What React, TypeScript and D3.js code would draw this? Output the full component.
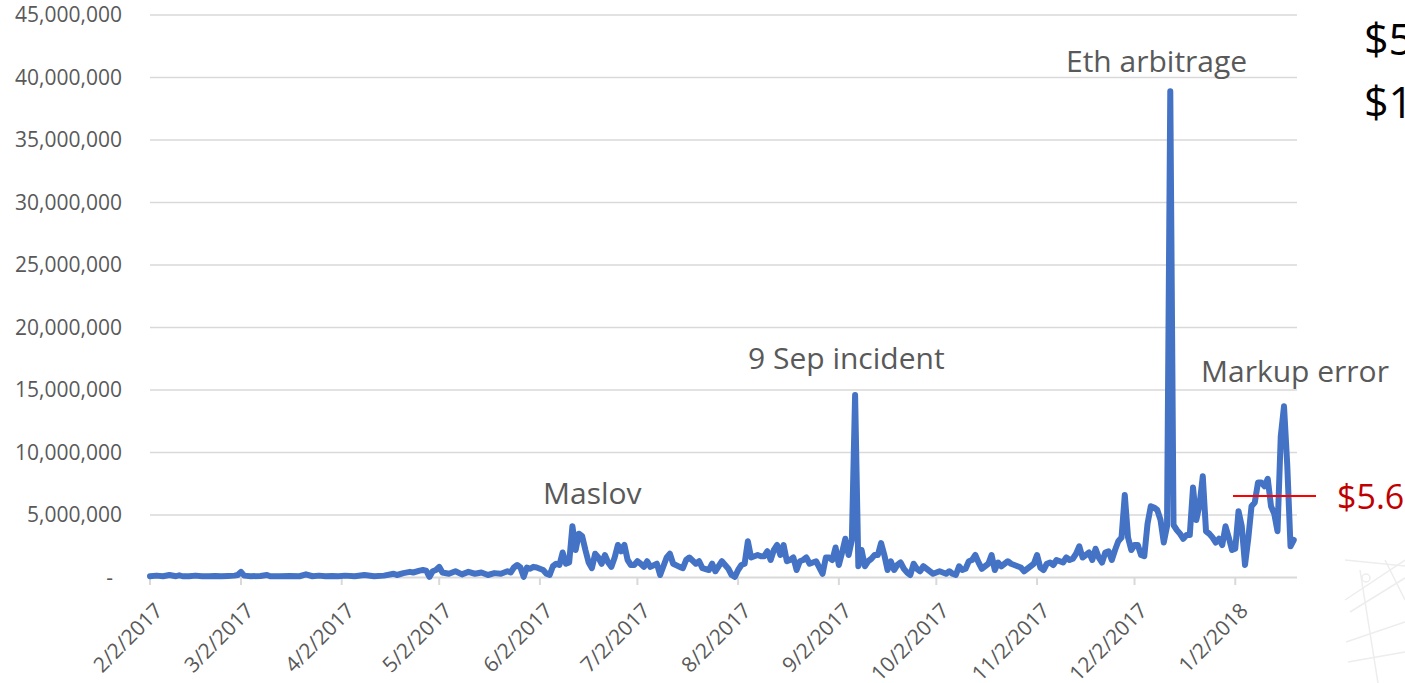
import * as d3 from 'd3';
import * as React from 'react';

// [day of month, daily volume in millions USD]
type Pt = [number, number];

const feb2017: Pt[] = [[2, 0.1], [4, 0.15], [6, 0.1], [8, 0.2], [10, 0.1], [11, 0.18], [12, 0.1], [14, 0.1], [16, 0.15], [18, 0.1], [20, 0.1], [22, 0.12], [24, 0.1], [26, 0.12], [28, 0.15]];
const mar2017: Pt[] = [[1, 0.2], [2, 0.45], [3, 0.15], [5, 0.1], [8, 0.12], [10, 0.2], [11, 0.1], [14, 0.1], [17, 0.12], [20, 0.1], [22, 0.25], [24, 0.1], [26, 0.15], [28, 0.1], [30, 0.12]];
const apr2017: Pt[] = [[1, 0.1], [3, 0.15], [6, 0.1], [9, 0.2], [12, 0.1], [15, 0.15], [18, 0.3], [19, 0.2], [21, 0.35], [23, 0.45], [24, 0.4], [26, 0.55], [27, 0.6], [28, 0.55], [29, 0.05], [30, 0.5]];
const may2017: Pt[] = [[1, 0.6], [2, 0.85], [3, 0.4], [5, 0.3], [7, 0.5], [9, 0.25], [11, 0.45], [13, 0.3], [15, 0.4], [17, 0.2], [19, 0.35], [21, 0.3], [23, 0.5], [24, 0.4], [25, 0.8], [26, 1.0], [27, 0.8], [28, 0.05], [29, 0.8], [30, 0.7], [31, 0.85]];
const jun2017: Pt[] = [[1, 0.8], [2, 0.7], [3, 0.6], [4, 0.3], [5, 0.2], [6, 0.9], [7, 1.1], [8, 1.0], [9, 2.0], [10, 1.1], [11, 1.2], [12, 4.1], [13, 2.2], [14, 3.5], [15, 3.3], [16, 2.2], [17, 1.2], [18, 0.75], [19, 1.9], [20, 1.6], [21, 1.1], [22, 1.8], [23, 1.2], [24, 0.85], [25, 1.6], [26, 2.6], [27, 2.1], [28, 2.6], [29, 1.4], [30, 1.0]];
const jul2017: Pt[] = [[1, 1.0], [2, 1.3], [3, 1.1], [4, 0.85], [5, 1.3], [6, 0.85], [8, 1.1], [9, 0.2], [10, 0.9], [11, 1.6], [12, 1.9], [13, 1.1], [15, 0.85], [16, 0.75], [17, 1.4], [18, 1.6], [20, 1.1], [21, 1.3], [22, 0.75], [24, 0.6], [25, 1.1], [26, 0.5], [28, 1.3], [29, 1.0], [30, 0.7], [31, 0.2]];
const aug2017: Pt[] = [[1, 0.05], [2, 0.6], [3, 1.0], [4, 1.1], [5, 2.9], [6, 1.6], [7, 1.7], [8, 1.8], [9, 1.7], [10, 1.7], [11, 2.1], [12, 1.4], [13, 2.2], [14, 2.6], [15, 1.8], [16, 2.6], [17, 1.3], [18, 1.4], [19, 1.6], [20, 0.6], [21, 1.3], [22, 1.4], [23, 1.6], [24, 1.1], [26, 1.3], [27, 0.8], [28, 0.3], [29, 1.6], [30, 1.6], [31, 1.4]];
const sep2017: Pt[] = [[1, 2.4], [2, 1.0], [3, 2.0], [4, 3.1], [5, 1.8], [6, 3.0], [7, 14.6], [8, 0.9], [9, 2.2], [10, 0.9], [11, 1.3], [12, 1.5], [13, 1.8], [14, 1.8], [15, 2.75], [16, 1.8], [17, 0.6], [18, 1.3], [19, 0.6], [20, 1.0], [21, 1.2], [22, 0.7], [23, 0.4], [24, 0.2], [25, 1.1], [26, 0.7], [27, 0.5], [28, 0.9], [29, 0.7], [30, 0.5]];
const oct2017: Pt[] = [[1, 0.3], [2, 0.4], [3, 0.5], [4, 0.4], [5, 0.3], [6, 0.5], [7, 0.3], [8, 0.2], [9, 0.9], [10, 0.6], [11, 0.7], [12, 1.3], [13, 1.4], [14, 1.8], [15, 1.2], [16, 0.7], [17, 0.9], [18, 1.1], [19, 1.8], [20, 0.6], [21, 1.2], [22, 0.9], [24, 1.3], [25, 1.1], [26, 1.0], [27, 0.9], [28, 0.8], [29, 0.5], [30, 0.7], [31, 0.9]];
const nov2017: Pt[] = [[1, 1.1], [2, 1.8], [3, 0.8], [4, 0.6], [5, 1.1], [6, 1.2], [7, 1.0], [8, 1.4], [9, 1.3], [10, 1.2], [11, 1.6], [12, 1.4], [13, 1.5], [14, 1.9], [15, 2.5], [16, 1.6], [17, 1.8], [18, 2.0], [19, 1.4], [20, 2.3], [21, 1.6], [22, 1.2], [23, 2.0], [24, 2.1], [25, 1.4], [26, 2.2], [27, 2.9], [28, 3.2], [29, 6.6], [30, 3.2]];
const dec2017: Pt[] = [[1, 2.2], [2, 2.6], [3, 2.6], [4, 1.8], [5, 1.7], [6, 4.3], [7, 5.7], [8, 5.6], [9, 5.4], [10, 4.6], [11, 2.8], [12, 4.1], [13, 38.9], [14, 4.2], [15, 3.8], [16, 3.5], [17, 3.1], [18, 3.4], [19, 3.4], [20, 7.2], [21, 4.6], [22, 5.8], [23, 8.1], [24, 3.7], [25, 3.5], [26, 3.2], [27, 2.8], [28, 3.1], [29, 2.6], [30, 4.1], [31, 3.2]];
const jan2018: Pt[] = [[1, 2.2], [2, 2.3], [3, 5.3], [4, 4.1], [5, 1.0], [6, 3.1], [7, 5.7], [8, 6.0], [9, 7.6], [10, 7.6], [11, 7.3], [12, 7.9], [13, 5.7], [14, 5.1], [15, 3.7], [16, 11.3], [17, 13.7], [18, 9.0], [19, 2.5], [20, 3.0]];

const monthly: [number, number, Pt[]][] = [
    [2017, 1, feb2017], [2017, 2, mar2017], [2017, 3, apr2017], [2017, 4, may2017],
    [2017, 5, jun2017], [2017, 6, jul2017], [2017, 7, aug2017], [2017, 8, sep2017],
    [2017, 9, oct2017], [2017, 10, nov2017], [2017, 11, dec2017], [2018, 0, jan2018],
];

const yTickValues = [0, 5e6, 10e6, 15e6, 20e6, 25e6, 30e6, 35e6, 40e6, 45e6];
const xTickLabels = [
    '2/2/2017', '3/2/2017', '4/2/2017', '5/2/2017', '6/2/2017', '7/2/2017',
    '8/2/2017', '9/2/2017', '10/2/2017', '11/2/2017', '12/2/2017', '1/2/2018',
];
const annotations = ['Maslov', '9 Sep incident', 'Eth arbitrage', 'Markup error'];

const width = 1405;
const height = 683;
const font = '"Segoe UI", "Open Sans", sans-serif';
const axisGrey = '#595959';

export default function App() {
    const series = monthly.flatMap(([yr, mo, pts]) =>
        pts.map(([d, v]) => ({ date: new Date(yr, mo, d), value: v * 1e6 })));

    const parse = d3.timeParse('%m/%d/%Y');
    const x = d3.scaleTime()
        .domain([new Date(2017, 1, 2), new Date(2018, 0, 21)])
        .range([150, 1297]);
    const y = d3.scaleLinear()
        .domain([0, 45e6])
        .range([577.5, 15]);

    const line = d3.line<{ date: Date; value: number }>()
        .x(d => x(d.date))
        .y(d => y(d.value));

    const fmt = d3.format(',');
    const [maslov, sepIncident, ethArb, markup] = annotations;

    return (
        <div style={{ position: 'absolute', left: 0, top: 0, width, height, overflow: 'hidden', background: '#fff' }}>
            <svg width={width} height={height} style={{ display: 'block' }} fontFamily={font}>
                {/* faint background picture, bottom right */}
                <g stroke="#ededed" strokeWidth={1.5} fill="none">
                    <path d="M1345,600 L1405,560" />
                    <path d="M1350,612 L1405,578" />
                    <path d="M1360,570 L1378,683" />
                    <path d="M1346,642 L1405,622" />
                    <path d="M1348,662 L1405,652" />
                    <path d="M1385,560 L1405,600" />
                    <path d="M1345,560 L1405,566" />
                    <circle cx={1366} cy={578} r={4} />
                </g>

                {/* grid lines */}
                {yTickValues.map(v => (
                    <line key={v} x1={150} x2={1297} y1={y(v)} y2={y(v)}
                        stroke="#d9d9d9" strokeWidth={v === 0 ? 2 : 1.6} />
                ))}

                {/* y labels */}
                {yTickValues.map(v => (
                    <text key={'l' + v} x={v === 0 ? 113 : 122} y={y(v)} dy="0.35em"
                        textAnchor="end" fontSize={21} fill={axisGrey}>
                        {v === 0 ? '-' : fmt(v)}
                    </text>
                ))}

                {/* x ticks and labels */}
                {xTickLabels.map(lbl => {
                    const tx = x(parse(lbl) as Date);
                    return (
                        <g key={lbl}>
                            <line x1={tx} x2={tx} y1={578} y2={585} stroke="#d9d9d9" strokeWidth={2} />
                            <text transform={`translate(${tx + 14},${612}) rotate(-45)`}
                                textAnchor="end" fontSize={21} fill={axisGrey}>{lbl}</text>
                        </g>
                    );
                })}

                {/* series */}
                <path d={line(series) || ''} fill="none" stroke="#4472C4" strokeWidth={6}
                    strokeLinejoin="round" strokeLinecap="round" />

                {/* annotations */}
                <g fontSize={30} fill={axisGrey}>
                    <text x={543} y={504}>{maslov}</text>
                    <text x={748} y={369}>{sepIncident}</text>
                    <text x={1066} y={72}>{ethArb}</text>
                    <text x={1201} y={382}>{markup}</text>
                </g>

                {/* slide overlay text */}
                <g fontSize={43} fill="#000">
                    <text x={1364} y={55}>$5</text>
                    <text x={1364} y={118}>$1</text>
                </g>
                <line x1={1233} x2={1316} y1={496} y2={496} stroke="#ff0000" strokeWidth={2} />
                <text x={1337} y={509} fontSize={34} fill="#c00000">$5.6</text>
            </svg>
        </div>
    );
}
